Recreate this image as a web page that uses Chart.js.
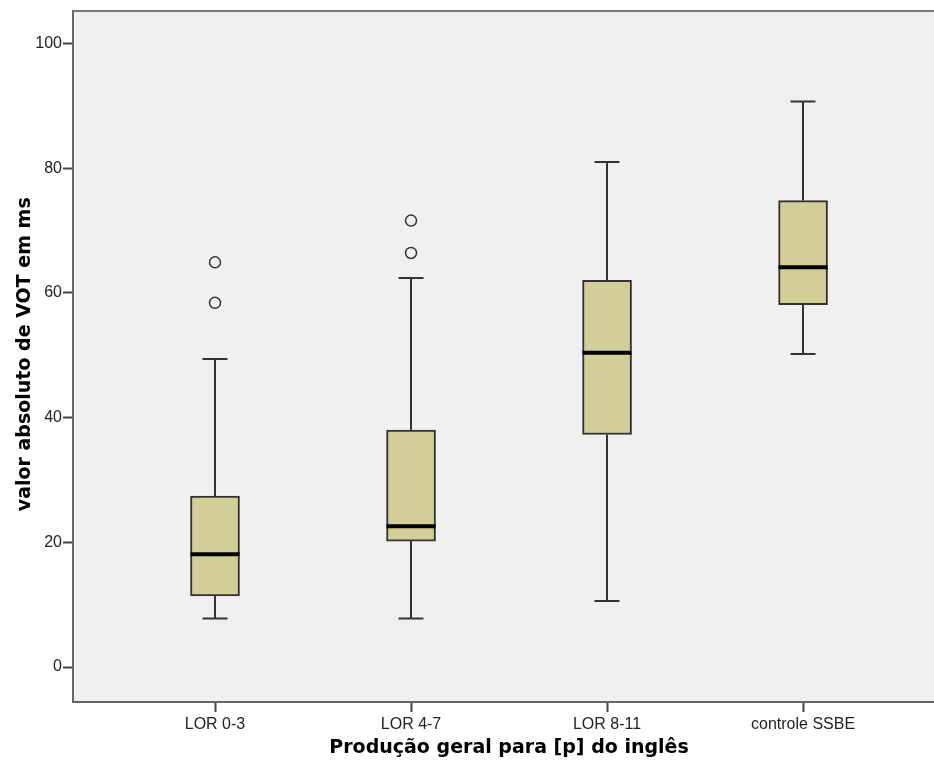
<!DOCTYPE html>
<html>
<head>
<meta charset="utf-8">
<script src="https://cdn.jsdelivr.net/npm/chart.js@4.4.1/dist/chart.umd.min.js"></script>
<style>
  body { margin: 0; background: #fff; }
  canvas { display: block; }
</style>
</head>
<body>
<canvas id="boxChart" width="934" height="761"></canvas>
<script>
// values
const categories = ['LOR 0-3', 'LOR 4-7', 'LOR 8-11', 'controle SSBE']
const whiskerLow = [7.8, 7.8, 10.6, 50.2]
const q1 = [11.4, 20.2, 37.3, 58.1]
const median = [18.1, 22.6, 50.4, 64.1]
const q3 = [27.4, 38.0, 62.0, 74.8]
const whiskerHigh = [49.4, 62.4, 81.0, 90.7]
const outliers = [[64.9, 58.4], [71.6, 66.4], [], []]
const yTicks = [0, 20, 40, 60, 80, 100]

const xTitle = 'Produção geral para [p] do inglês'
const yTitle = 'valor absoluto de VOT em ms'

const boxData = categories.map((c, i) => ({ x: i, y: [q1[i], q3[i]] }))
const outlierData = []
outliers.forEach((list, i) => list.forEach((v) => outlierData.push({ x: i, y: v })))

const BOX_W = 49
const CAP_W = 25

const boxPlugin = {
    id: 'boxParts',
    beforeDraw(chart) {
        const { ctx, chartArea } = chart
        ctx.save()
        ctx.fillStyle = '#ffffff'
        ctx.fillRect(0, 0, chart.width, chart.height)
        ctx.fillStyle = '#f0f0f0'
        ctx.fillRect(chartArea.left, chartArea.top, chartArea.right - chartArea.left, chartArea.bottom - chartArea.top)
        ctx.restore()
    },
    afterDatasetsDraw(chart) {
        const { ctx, chartArea } = chart
        const x = chart.scales.x
        const y = chart.scales.y
        ctx.save()
        ctx.strokeStyle = '#333'
        ctx.lineWidth = 2
        categories.forEach((c, i) => {
            const cx = Math.round(x.getPixelForValue(i))
            const yHi = y.getPixelForValue(whiskerHigh[i])
            const yLo = y.getPixelForValue(whiskerLow[i])
            ctx.beginPath()
            ctx.moveTo(cx, y.getPixelForValue(q3[i]))
            ctx.lineTo(cx, yHi)
            ctx.moveTo(cx - CAP_W / 2, yHi)
            ctx.lineTo(cx + CAP_W / 2, yHi)
            ctx.moveTo(cx, y.getPixelForValue(q1[i]))
            ctx.lineTo(cx, yLo)
            ctx.moveTo(cx - CAP_W / 2, yLo)
            ctx.lineTo(cx + CAP_W / 2, yLo)
            ctx.stroke()
        })
        // medians
        ctx.strokeStyle = '#000'
        ctx.lineWidth = 4
        categories.forEach((c, i) => {
            const cx = x.getPixelForValue(i)
            const ym = y.getPixelForValue(median[i])
            ctx.beginPath()
            ctx.moveTo(cx - BOX_W / 2, ym)
            ctx.lineTo(cx + BOX_W / 2, ym)
            ctx.stroke()
        })
        // top frame line
        ctx.strokeStyle = '#777'
        ctx.lineWidth = 2
        ctx.beginPath()
        ctx.moveTo(chartArea.left, chartArea.top)
        ctx.lineTo(chartArea.right, chartArea.top)
        ctx.stroke()
        ctx.restore()
    },
    afterDraw(chart) {
        const { ctx } = chart
        const x = chart.scales.x
        const y = chart.scales.y
        ctx.save()
        ctx.fillStyle = '#000'
        ctx.font = 'bold 19px "DejaVu Sans"'
        ctx.textAlign = 'center'
        ctx.textBaseline = 'alphabetic'
        ctx.fillText(xTitle, x.getPixelForValue(1.5), 753)
        ctx.translate(30, y.getPixelForValue(50) - 1)
        ctx.rotate(-Math.PI / 2)
        ctx.font = 'bold 19px "DejaVu Sans"'
        ctx.fillText(yTitle, 0, 0)
        ctx.restore()
    }
}

new Chart(document.getElementById('boxChart').getContext('2d'), {
    type: 'bar',
    data: {
        datasets: [
            {
                type: 'bar',
                data: boxData,
                backgroundColor: '#d3ce97',
                borderColor: '#333',
                borderWidth: 2,
                borderSkipped: false,
                barThickness: BOX_W,
            },
            {
                type: 'scatter',
                data: outlierData,
                pointRadius: 5.5,
                pointBorderWidth: 1.5,
                pointBorderColor: '#333',
                pointBackgroundColor: '#f0f0f0',
                showLine: false,
            },
        ],
    },
    options: {
        responsive: false,
        animation: false,
        layout: { autoPadding: false, padding: { top: 11, right: 0, left: 0, bottom: 0 } },
        plugins: {
            legend: { display: false },
            tooltip: { enabled: false },
        },
        scales: {
            x: {
                type: 'linear',
                min: -0.7245,
                max: 3.668,
                offset: false,
                afterBuildTicks: (scale) => { scale.ticks = categories.map((c, i) => ({ value: i })) },
                afterFit: (scale) => { scale.height = 59 },
                grid: { offset: false, drawOnChartArea: false, tickLength: 10, tickWidth: 2, tickColor: '#444' },
                border: { display: true, color: '#666', width: 2 },
                ticks: {
                    autoSkip: false,
                    maxRotation: 0,
                    padding: 3,
                    color: '#222',
                    font: { family: '"Liberation Sans", Arial', size: 16 },
                    callback: (v) => categories[v],
                },
            },
            y: {
                type: 'linear',
                min: -5.6,
                max: 105.2,
                afterBuildTicks: (scale) => { scale.ticks = yTicks.map((v) => ({ value: v })) },
                afterFit: (scale) => { scale.width = 73 },
                grid: { drawOnChartArea: false, tickLength: 10, tickWidth: 2, tickColor: '#444' },
                border: { display: true, color: '#666', width: 2 },
                ticks: {
                    padding: 1,
                    color: '#222',
                    font: { family: '"Liberation Sans", Arial', size: 16 },
                },
            },
        },
    },
    plugins: [boxPlugin],
})
</script>
</body>
</html>
